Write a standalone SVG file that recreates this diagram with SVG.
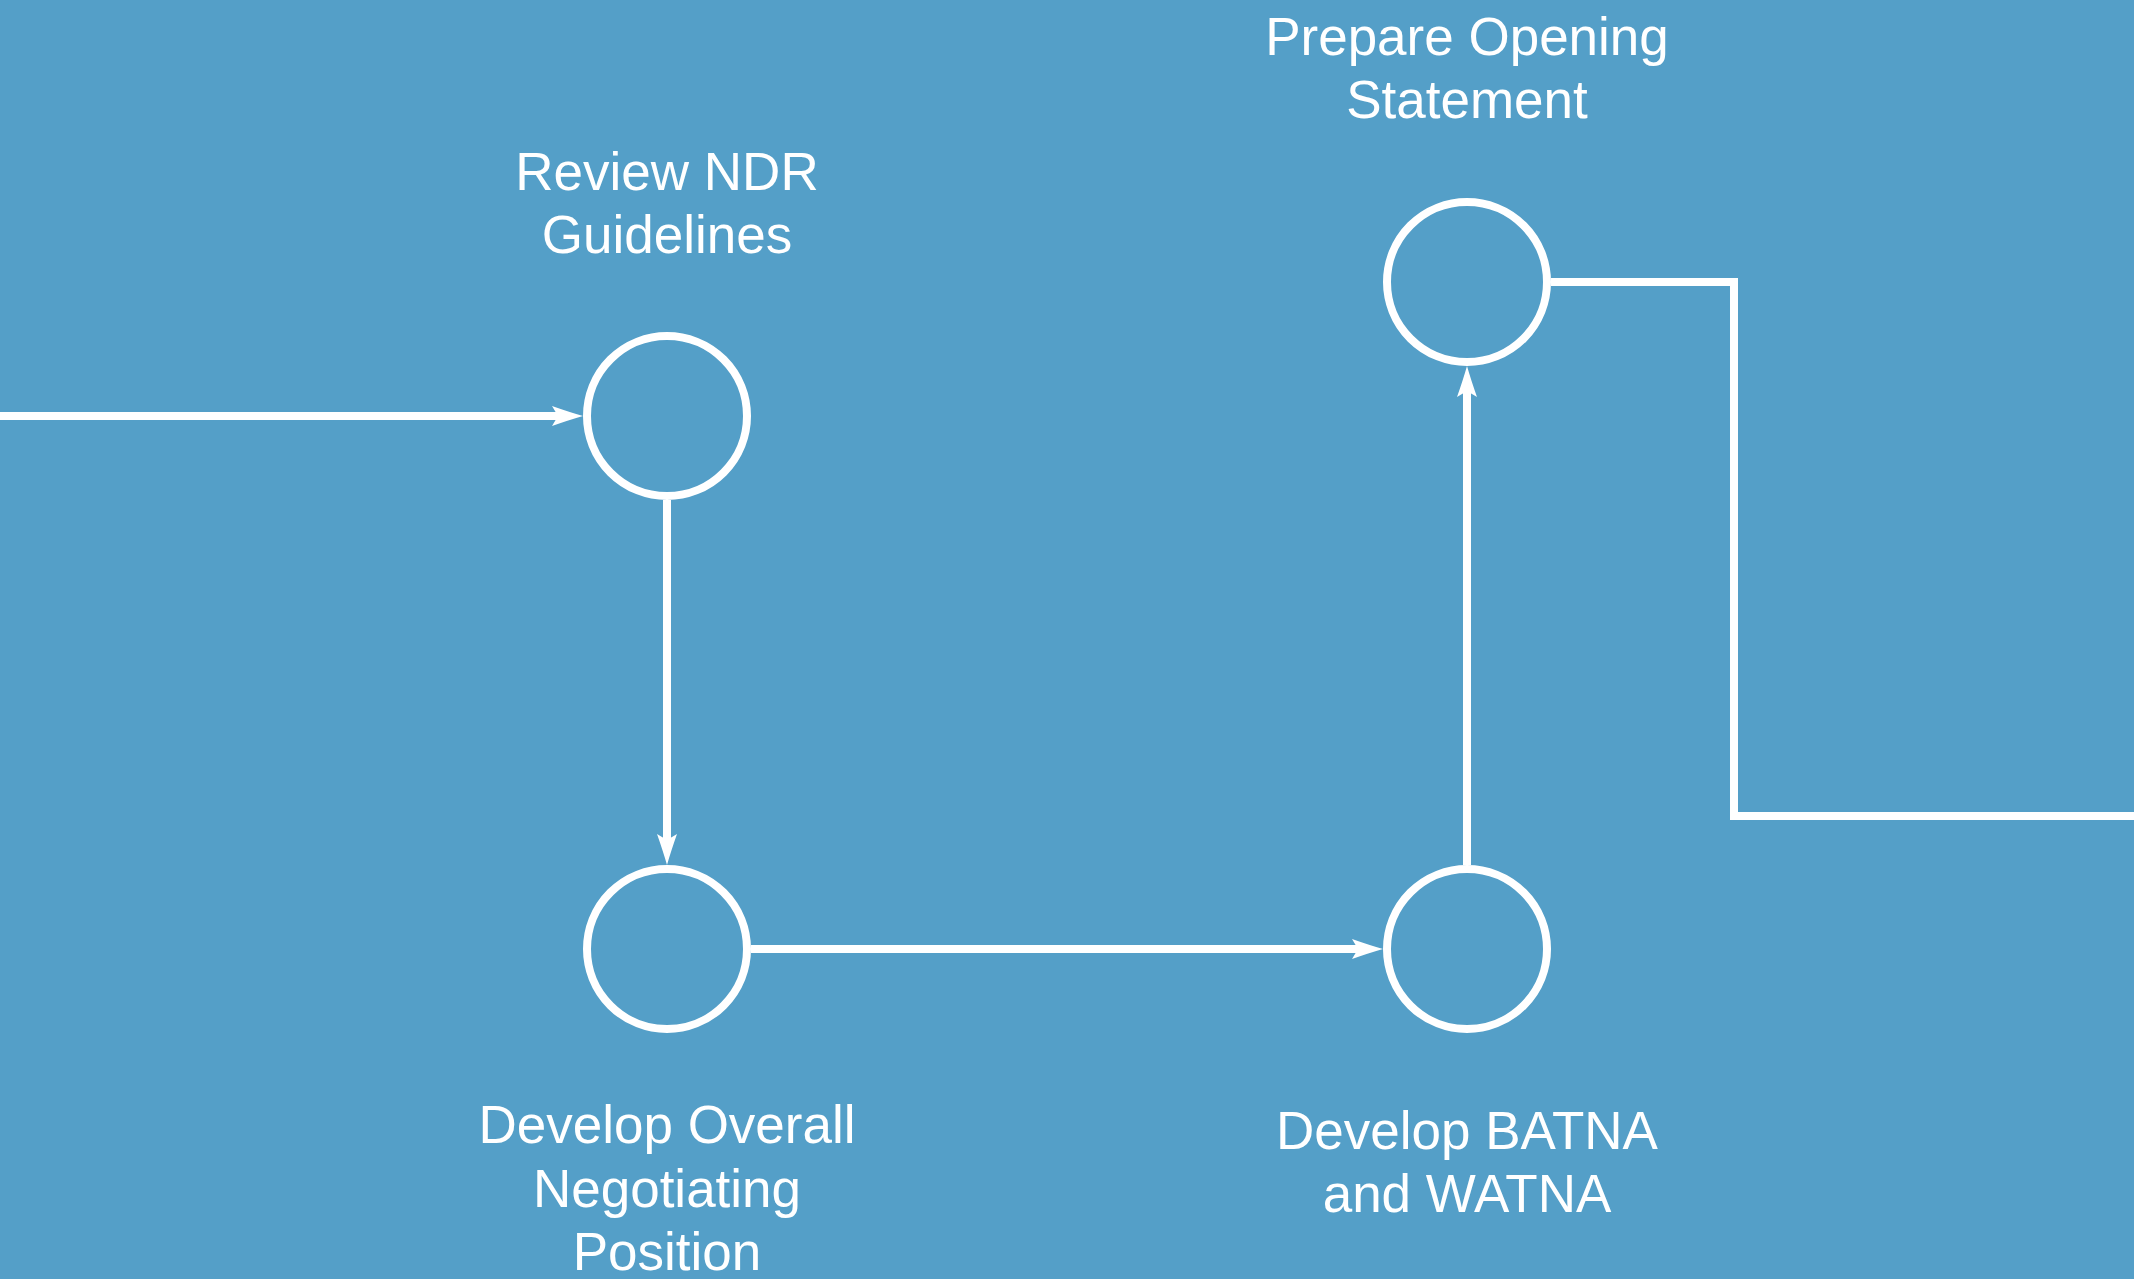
<svg xmlns="http://www.w3.org/2000/svg" width="2134" height="1279" viewBox="0 0 2134 1279">
<defs>
<style>
.node{fill:none;stroke:#fff;stroke-width:8}
.edge{fill:none;stroke:#fff;stroke-width:8}
.lbl{fill:#fff;font-family:"Liberation Sans",Arial,sans-serif;font-size:53px;text-anchor:middle}
</style>
<marker id="arr" markerUnits="userSpaceOnUse" markerWidth="40" markerHeight="30" viewBox="-10 -15 40 30" refX="0" refY="0" orient="auto" overflow="visible">
<path d="M25,0 Q11,-4 -6,-10 L0,0 L-6,10 Q11,4 25,0 Z" fill="#fff"/>
</marker>
</defs>
<rect width="2134" height="1279" fill="#549FC8"/>
<g id="connectors">
<path class="edge" d="M0,416 L558,416" marker-end="url(#arr)"/>
<path class="edge" d="M667,500 L667,840" marker-end="url(#arr)"/>
<path class="edge" d="M751,949 L1358,949" marker-end="url(#arr)"/>
<path class="edge" d="M1467,865 L1467,391" marker-end="url(#arr)"/>
<path class="edge" d="M1551,282 L1734,282 L1734,816 L2134,816"/>
</g>
<g id="review-ndr">
<circle class="node" cx="667" cy="416" r="80"/>
<text class="lbl" x="667" y="190">Review NDR</text>
<text class="lbl" x="667" y="253">Guidelines</text>
</g>
<g id="develop-overall">
<circle class="node" cx="667" cy="949" r="80"/>
<text class="lbl" x="667" y="1143">Develop Overall</text>
<text class="lbl" x="667" y="1207">Negotiating</text>
<text class="lbl" x="667" y="1270">Position</text>
</g>
<g id="develop-batna">
<circle class="node" cx="1467" cy="949" r="80"/>
<text class="lbl" x="1467" y="1149">Develop BATNA</text>
<text class="lbl" x="1467" y="1212">and WATNA</text>
</g>
<g id="prepare-opening">
<circle class="node" cx="1467" cy="282" r="80"/>
<text class="lbl" x="1467" y="55">Prepare Opening</text>
<text class="lbl" x="1467" y="118">Statement</text>
</g>
</svg>
